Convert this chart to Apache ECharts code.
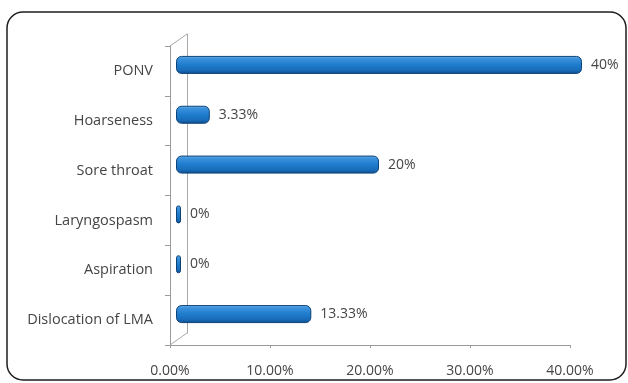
<!DOCTYPE html>
<html>
<head>
<meta charset="utf-8">
<script src="https://cdn.jsdelivr.net/npm/echarts@6/dist/echarts.min.js"></script>
<style>
  html, body { margin: 0; padding: 0; background: #ffffff; }
  #chart { width: 628px; height: 383px; }
</style>
</head>
<body>
<div id="chart"></div>
<script>
// Complications after LMA insertion, percentage of patients
const categories = ["PONV", "Hoarseness", "Sore throat", "Laryngospasm", "Aspiration", "Dislocation of LMA"];
const percentages = [40, 3.33, 20, 0, 0, 13.33];
const axisTicks = [0, 10, 20, 30, 40];

const textColor = "#454545";
const fontFamily = "'Open Sans', Lato, sans-serif";

const chart = echarts.init(document.getElementById("chart"));

// cylinder shading for the bars
const barFill = new echarts.graphic.LinearGradient(0, 0, 0, 1, [
  { offset: 0, color: "#7ab6e8" },
  { offset: 0.15, color: "#3a92dc" },
  { offset: 0.5, color: "#1f7ccd" },
  { offset: 0.8, color: "#186cb9" },
  { offset: 1, color: "#0e4c8c" }
]);

chart.setOption({
  animation: false,
  backgroundColor: "#ffffff",
  grid: [
    // front plane: visible axes
    { left: 170, right: 58, top: 46, bottom: 38 },
    // back wall
    { left: 187, right: 41, top: 34, bottom: 50 },
    // bars sit between the two planes
    { left: 176, right: 46, top: 40, bottom: 44 }
  ],
  xAxis: [
    {
      gridIndex: 0, type: "value",
      min: axisTicks[0], max: axisTicks[axisTicks.length - 1], interval: 10,
      axisLine: { show: true, lineStyle: { color: "#9a9a9a", width: 1 } },
      axisTick: { show: true, length: 3, lineStyle: { color: "#9a9a9a" } },
      splitLine: { show: false },
      axisLabel: {
        color: textColor, fontFamily: fontFamily, fontSize: 14, margin: 19,
        formatter: v => v.toFixed(2) + "%"
      }
    },
    {
      gridIndex: 1, type: "value", min: 0, max: 40, show: false
    },
    {
      gridIndex: 2, type: "value", min: 0, max: 40, show: false
    }
  ],
  yAxis: [
    {
      gridIndex: 0, type: "category", data: categories, inverse: true,
      axisLine: { show: true, lineStyle: { color: "#9a9a9a", width: 1 } },
      axisTick: { show: true, length: 5, lineStyle: { color: "#9a9a9a" } },
      axisLabel: { color: textColor, fontFamily: fontFamily, fontSize: 14.5, margin: 17 }
    },
    {
      gridIndex: 1, type: "category", data: categories, inverse: true,
      axisLine: { show: true, lineStyle: { color: "#a8a8a8", width: 1 } },
      axisTick: { show: false }, axisLabel: { show: false }
    },
    {
      gridIndex: 2, type: "category", data: categories, inverse: true, show: false
    }
  ],
  series: [
    {
      type: "bar",
      xAxisIndex: 2, yAxisIndex: 2,
      data: percentages,
      barWidth: 18,
      barMinHeight: 5,
      itemStyle: {
        color: barFill,
        borderColor: "#0d4277",
        borderWidth: 1,
        borderRadius: 5
      },
      label: {
        show: true, position: "right", distance: 9,
        color: textColor, fontFamily: fontFamily, fontSize: 14,
        formatter: p => p.value + "%"
      }
    }
  ],
  graphic: [
    // rounded frame around the chart
    {
      type: "rect", silent: true,
      shape: { x: 7, y: 12, width: 619, height: 368, r: 16 },
      style: { fill: "none", stroke: "#1e1e1e", lineWidth: 1.5 }
    },
    // wall edges joining the front axis to the back wall
    {
      type: "line", silent: true,
      shape: { x1: 170, y1: 46, x2: 187, y2: 34 },
      style: { stroke: "#a8a8a8", lineWidth: 1 }
    },
    {
      type: "line", silent: true,
      shape: { x1: 170, y1: 345, x2: 187, y2: 333 },
      style: { stroke: "#a8a8a8", lineWidth: 1 }
    }
  ]
});
</script>
</body>
</html>
